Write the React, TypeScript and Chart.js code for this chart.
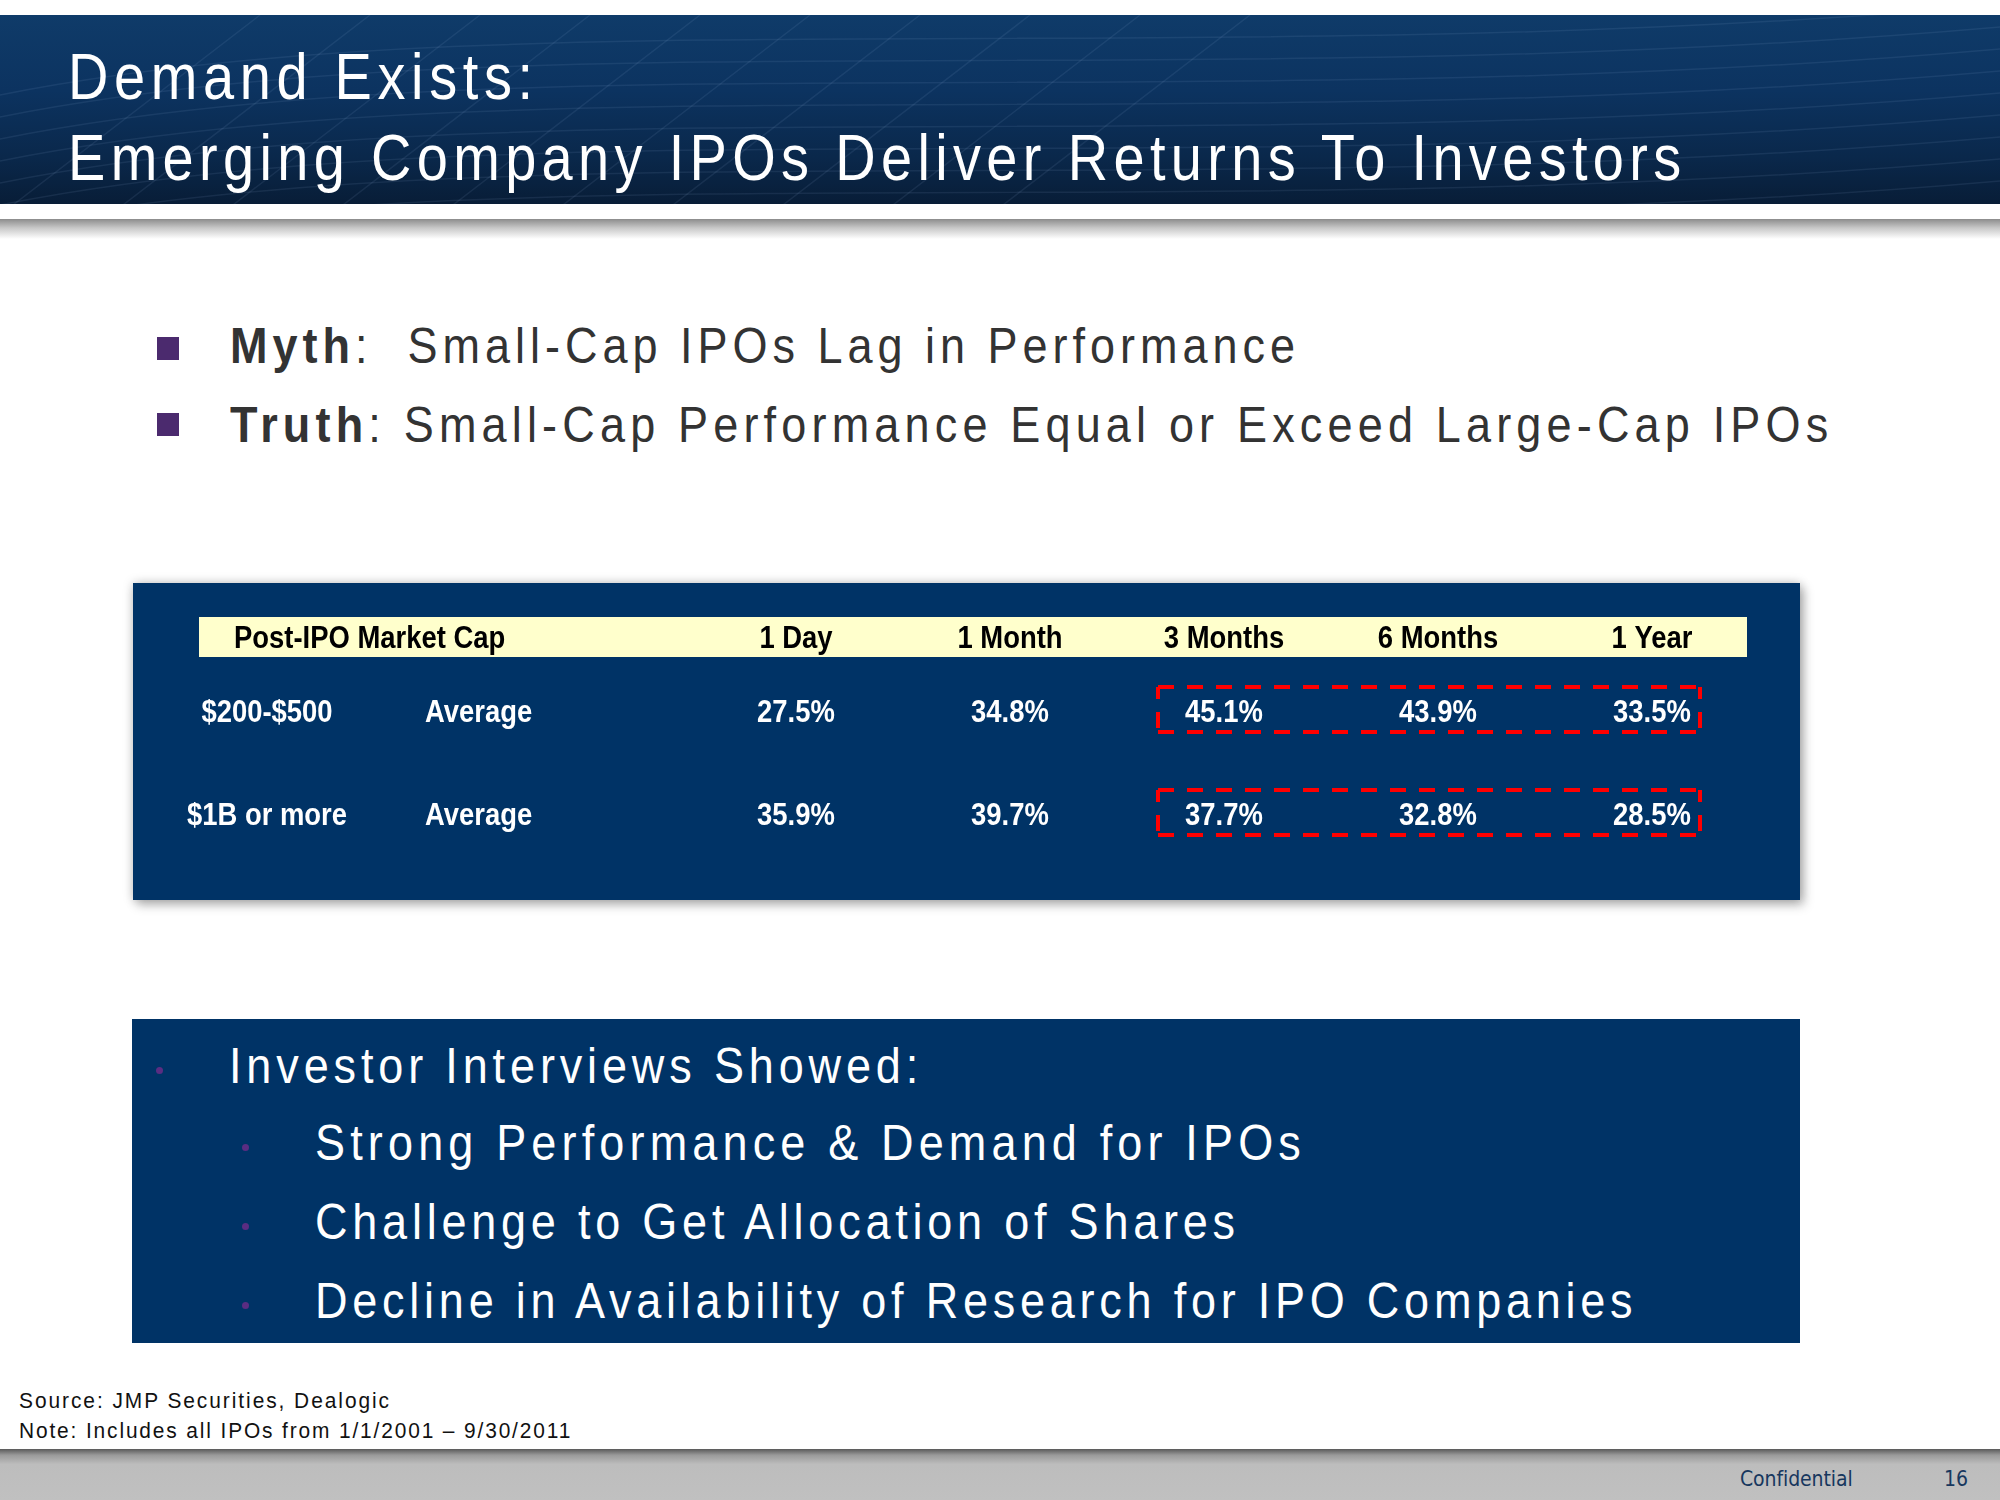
import React, { useEffect, useLayoutEffect, useRef } from "react";
import { Chart, registerables } from "chart.js";

Chart.register(...registerables);

// ---------- data ----------
const periods = ["1 Day", "1 Month", "3 Months", "6 Months", "1 Year"];
const capBuckets = ["$200-$500", "$1B or more"];
const rowStats = ["Average", "Average"];
const smallCapReturns = [27.5, 34.8, 45.1, 43.9, 33.5];
const largeCapReturns = [35.9, 39.7, 37.7, 32.8, 28.5];
const highlightedPeriods = ["3 Months", "6 Months", "1 Year"];
const firstHeader = "Post-IPO Market Cap";

const titleLines = ["Demand Exists:", "Emerging Company IPOs Deliver Returns To Investors"];
const interviewHeading = "Investor Interviews Showed:";
const interviewPoints = [
  "Strong Performance & Demand for IPOs",
  "Challenge to Get Allocation of Shares",
  "Decline in Availability of Research for IPO Companies",
];
const footNotes = ["Source: JMP Securities, Dealogic", "Note: Includes all IPOs from 1/1/2001 \u2013 9/30/2011"];

// ---------- styles ----------
const SANS = "'Liberation Sans', Arial, sans-serif";
const NAVY = "#003366";

function FitLine(props: { width: number; sx?: number; style: React.CSSProperties; children: React.ReactNode }) {
  const ref = useRef<HTMLDivElement>(null);
  const sx = props.sx ?? 0.9;
  useLayoutEffect(() => {
    const el = ref.current;
    if (!el) return;
    el.style.letterSpacing = "0px";
    const w = el.offsetWidth;
    const n = (el.textContent || "").length;
    if (n > 1) el.style.letterSpacing = (props.width / sx - w) / (n - 1) + "px";
  }, [props.width, sx]);
  return (
    <div
      ref={ref}
      style={{
        position: "absolute",
        whiteSpace: "pre",
        lineHeight: 1,
        fontFamily: SANS,
        transform: `scaleX(${sx})`,
        transformOrigin: "0 0",
        ...props.style,
      }}
    >
      {props.children}
    </div>
  );
}

function drawText(
  ctx: CanvasRenderingContext2D,
  text: string,
  x: number,
  cy: number,
  align: CanvasTextAlign,
  size: number,
  color: string,
  sx = 0.885
) {
  ctx.save();
  ctx.font = `bold ${size}px ${SANS}`;
  ctx.fillStyle = color;
  ctx.textAlign = align;
  ctx.textBaseline = "alphabetic";
  ctx.translate(x, cy + size * 0.358);
  ctx.scale(sx, 1);
  ctx.fillText(text, 0, 0);
  ctx.restore();
}

const tablePlugin = {
  id: "ipoTable",
  beforeDatasetsDraw(chart: any) {
    const ctx: CanvasRenderingContext2D = chart.ctx;
    const xs = chart.scales.x;
    const area = chart.chartArea;
    ctx.save();
    ctx.fillStyle = "#FFFFCC";
    ctx.fillRect(66, area.top - 42.5, 1548, 40);
    ctx.restore();
    const hy = area.top - 23;
    drawText(ctx, firstHeader, 101, hy, "left", 31, "#000000");
    periods.forEach((p) => {
      drawText(ctx, p, xs.getPixelForValue(periods.indexOf(p)), hy, "center", 31, "#000000");
    });
  },
  afterDatasetsDraw(chart: any) {
    const ctx: CanvasRenderingContext2D = chart.ctx;
    const xs = chart.scales.x;
    const ys = chart.scales.y;
    const area = chart.chartArea;
    const tables = [smallCapReturns, largeCapReturns];
    chart.data.datasets.forEach((ds: any, r: number) => {
      const meta = chart.getDatasetMeta(r);
      const cy = ys.getPixelForValue(r);
      drawText(ctx, capBuckets[r], area.left - 422, cy, "center", 31, "#FFFFFF");
      drawText(ctx, rowStats[r], area.left - 264, cy, "left", 31, "#FFFFFF");
      meta.data.forEach((pt: any, i: number) => {
        drawText(ctx, tables[r][i].toFixed(1) + "%", pt.x, pt.y, "center", 31, "#FFFFFF");
      });
      const first = periods.indexOf(highlightedPeriods[0]);
      const last = periods.indexOf(highlightedPeriods[highlightedPeriods.length - 1]);
      const left = xs.getPixelForValue(first) - 66;
      const right = xs.getPixelForValue(last) + 48;
      const top = cy - 24;
      const bottom = cy + 21;
      ctx.save();
      ctx.strokeStyle = "#FF0000";
      ctx.lineWidth = 4;
      ctx.setLineDash([16, 13]);
      const seg = (x1: number, y1: number, x2: number, y2: number, off = 0) => {
        ctx.lineDashOffset = off;
        ctx.beginPath();
        ctx.moveTo(x1, y1);
        ctx.lineTo(x2, y2);
        ctx.stroke();
      };
      seg(left, top, right, top);
      seg(left, bottom, right, bottom);
      seg(left, top, left, bottom, 4);
      seg(right, top, right, bottom, 4);
      ctx.restore();
    });
  },
};

function ReturnsTable() {
  const ref = useRef<HTMLCanvasElement>(null);
  useEffect(() => {
    if (!ref.current) return;
    const chart = new Chart(ref.current, {
      type: "line",
      data: {
        labels: periods,
        datasets: [smallCapReturns, largeCapReturns].map((vals, r) => ({
          label: capBuckets[r],
          data: vals.map((v, i) => ({ x: periods[i], y: capBuckets[r] })) as any,
          showLine: false,
          pointRadius: 0,
          pointHoverRadius: 0,
        })),
      },
      options: {
        animation: false,
        responsive: false,
        devicePixelRatio: 1,
        events: [],
        layout: { padding: { left: 556, right: 41, top: 76.5, bottom: 34.5 } },
        scales: {
          x: { type: "category", labels: periods, offset: true, display: false },
          y: { type: "category", labels: capBuckets, offset: true, display: false },
        },
        plugins: { legend: { display: false }, tooltip: { enabled: false }, title: { display: false } },
      },
      plugins: [tablePlugin as any],
    });
    return () => chart.destroy();
  }, []);
  return <canvas ref={ref} width={1667} height={317} style={{ display: "block", width: 1667, height: 317 }} />;
}

function HeaderLines() {
  const paths: string[] = [];
  for (let k = 0; k < 9; k++) {
    const y0 = 20 + k * 22;
    paths.push(`M0 ${y0 + 60} C 500 ${y0 - 40}, 1200 ${y0 + 40}, 2000 ${y0 - 30}`);
  }
  for (let k = 0; k < 10; k++) {
    const x0 = k * 110;
    paths.push(`M${x0} 200 L ${x0 + 260} 0`);
  }
  return (
    <svg width={2000} height={189} style={{ position: "absolute", left: 0, top: 15 }}>
      {paths.map((d, i) => (
        <path key={i} d={d} stroke="rgba(160,190,230,0.10)" strokeWidth={1.5} fill="none" />
      ))}
    </svg>
  );
}

export default function App() {
  const white = "#FFFFFF";
  const gray = "#333333";
  return (
    <div
      style={{
        position: "absolute",
        left: 0,
        top: 0,
        width: 2000,
        height: 1500,
        overflow: "hidden",
        background: "#FFFFFF",
        fontFamily: SANS,
      }}
    >
      <div
        style={{
          position: "absolute",
          left: 0,
          top: 15,
          width: 2000,
          height: 189,
          background: "linear-gradient(180deg, #0f3b69 0%, #0c3360 40%, #0a284b 75%, #081d37 100%)",
        }}
      />
      <HeaderLines />
      <div
        style={{
          position: "absolute",
          left: 0,
          top: 219,
          width: 2000,
          height: 20,
          background: "linear-gradient(180deg, #8c8c8c 0%, #c8c8c8 45%, #ffffff 100%)",
        }}
      />
      <FitLine width={465} sx={0.86} style={{ left: 68, top: 44, fontSize: 65, color: white }}>
        {titleLines[0]}
      </FitLine>
      <FitLine width={1613} sx={0.86} style={{ left: 68, top: 125, fontSize: 65, color: white }}>
        {titleLines[1]}
      </FitLine>

      <div style={{ position: "absolute", left: 157, top: 337, width: 22, height: 23, background: "#4B2A6E" }} />
      <div style={{ position: "absolute", left: 157, top: 413, width: 22, height: 23, background: "#4B2A6E" }} />
      <FitLine width={1065} style={{ left: 230, top: 321, fontSize: 50, color: gray }}>
        <b>Myth</b>
        {":  Small-Cap IPOs Lag in Performance"}
      </FitLine>
      <FitLine width={1598} style={{ left: 230, top: 400, fontSize: 50, color: gray }}>
        <b>Truth</b>
        {": Small-Cap Performance Equal or Exceed Large-Cap IPOs"}
      </FitLine>

      <div
        style={{
          position: "absolute",
          left: 133,
          top: 583,
          width: 1667,
          height: 317,
          background: NAVY,
          boxShadow: "0 0 10px rgba(0,0,0,0.22), 4px 5px 10px rgba(0,0,0,0.25)",
        }}
      >
        <ReturnsTable />
      </div>

      <div style={{ position: "absolute", left: 132, top: 1019, width: 1668, height: 324, background: NAVY }} />
      <div style={{ position: "absolute", left: 156, top: 1067, width: 7, height: 7, borderRadius: 4, background: "#5A2D82" }} />
      <FitLine width={689} style={{ left: 229, top: 1041, fontSize: 50, color: white }}>
        {interviewHeading}
      </FitLine>
      {interviewPoints.map((t, i) => (
        <React.Fragment key={t}>
          <div
            style={{
              position: "absolute",
              left: 242,
              top: 1144 + i * 79,
              width: 7,
              height: 7,
              borderRadius: 4,
              background: "#5A2D82",
            }}
          />
          <FitLine width={[986, 920, 1318][i]} style={{ left: 315, top: 1118 + i * 79, fontSize: 50, color: white }}>
            {t}
          </FitLine>
        </React.Fragment>
      ))}

      <FitLine width={370} sx={0.95} style={{ left: 19, top: 1390, fontSize: 22, color: "#111111" }}>
        {footNotes[0]}
      </FitLine>
      <FitLine width={551} sx={0.95} style={{ left: 19, top: 1420, fontSize: 22, color: "#111111" }}>
        {footNotes[1]}
      </FitLine>

      <div
        style={{
          position: "absolute",
          left: 0,
          top: 1449,
          width: 2000,
          height: 51,
          background: "linear-gradient(180deg, #5a5a5a 0%, #9a9a9a 12%, #bdbdbd 30%, #c0c0c0 100%)",
        }}
      />
      <FitLine
        width={113}
        sx={1}
        style={{ left: 1740, top: 1469, fontSize: 21, color: "#17375E", fontFamily: "'DejaVu Sans Condensed', 'DejaVu Sans', sans-serif" }}
      >
        Confidential
      </FitLine>
      <div
        style={{
          position: "absolute",
          left: 1944,
          top: 1469,
          fontSize: 21,
          lineHeight: 1,
          color: "#17375E",
          fontFamily: "'DejaVu Sans Condensed', 'DejaVu Sans', sans-serif",
        }}
      >
        16
      </div>
    </div>
  );
}
